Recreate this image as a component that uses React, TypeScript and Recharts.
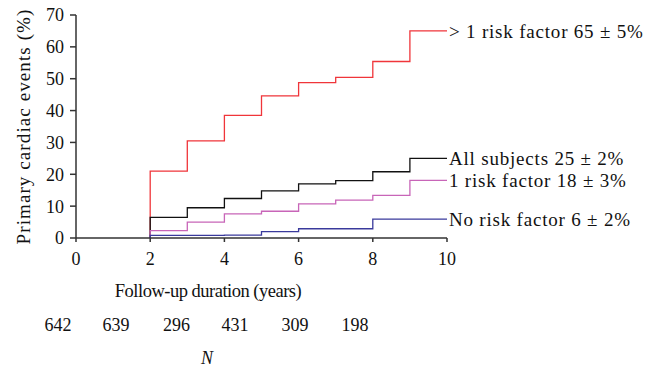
import React from "react";
import { LineChart, Line, XAxis, YAxis } from "recharts";

const xTicks = [0, 2, 4, 6, 8, 10];
const yTicks = [0, 10, 20, 30, 40, 50, 60, 70];
const times = [2, 2, 3, 4, 5, 6, 7, 8, 9, 10];
const moreThanOne = [0, 21, 30.5, 38.5, 44.6, 48.8, 50.4, 55.4, 65, 65];
const allSubjects = [0, 6.5, 9.5, 12.4, 14.8, 17, 18, 20.8, 25, 25];
const oneRisk = [0, 2.3, 5, 7.6, 8.4, 10.7, 11.9, 13.4, 18.1, 18.1];
const noRisk = [0, 0.8, 0.8, 0.9, 2, 2.9, 2.9, 5.9, 5.9, 5.9];
const nLabels = ["642", "639", "296", "431", "309", "198"];
const nCenters = [58, 116, 176.5, 235, 295, 355];

const series = [
  { name: "> 1 risk factor 65 ± 5%", values: moreThanOne, color: "#f0353a" },
  { name: "All subjects 25 ± 2%", values: allSubjects, color: "#111111" },
  { name: "1 risk factor 18 ± 3%", values: oneRisk, color: "#c865b8" },
  { name: "No risk factor 6 ± 2%", values: noRisk, color: "#3a3a9c" },
];

const FONT = "'Liberation Serif', 'Times New Roman', serif";

const makeData = (vals: number[]) => times.map((t, i) => ({ t, v: vals[i] }));

const endLabel = (text: string, n: number) => (props: any) => {
  const { x, y, index } = props;
  if (index !== n - 1) return null;
  return (
    <text
      x={x + 2}
      y={y}
      dy="0.35em"
      fontSize={19}
      letterSpacing={0.8}
      fontFamily={FONT}
      fill="#111"
    >
      {text}
    </text>
  );
};

export default function App() {
  return (
    <div style={{ position: "relative", width: 658, height: 370, fontFamily: FONT, color: "#111" }}>
      <style>{"body{margin:0}"}</style>
      <LineChart width={658} height={370} margin={{ top: 15, right: 211, bottom: 102, left: 0 }}>
        <XAxis
          dataKey="t"
          type="number"
          domain={[0, 10]}
          ticks={xTicks}
          allowDuplicatedCategory={false}
          height={30}
          tickSize={4}
          tickMargin={10}
          stroke="#333"
          strokeWidth={1.5}
          tick={{ fontSize: 18, fontFamily: FONT, fill: "#111" }}
        />
        <YAxis
          type="number"
          domain={[0, 70]}
          ticks={yTicks}
          width={76}
          tickSize={6}
          tickMargin={6}
          stroke="#333"
          strokeWidth={1.5}
          tick={{ fontSize: 18, fontFamily: FONT, fill: "#111" }}
          label={{
            value: "Primary cardiac events (%)",
            angle: -90,
            position: "insideLeft",
            offset: 23,
            style: { textAnchor: "middle", fontSize: 19, letterSpacing: 1.1, fontFamily: FONT, fill: "#111" },
          }}
        />
        {series.map((s) => (
          <Line
            key={s.name}
            data={makeData(s.values)}
            dataKey="v"
            type="stepAfter"
            stroke={s.color}
            strokeWidth={1.3}
            dot={false}
            isAnimationActive={false}
            label={endLabel(s.name, times.length)}
          />
        ))}
      </LineChart>
      <div
        style={{
          position: "absolute",
          left: 0,
          width: 416,
          top: 281,
          textAlign: "center",
          fontSize: 18.5,
          letterSpacing: -0.5,
        }}
      >
        Follow-up duration (years)
      </div>
      {nLabels.map((n, i) => (
        <div
          key={n}
          style={{ position: "absolute", left: nCenters[i] - 30, width: 60, top: 315, textAlign: "center", fontSize: 18 }}
        >
          {n}
        </div>
      ))}
      <div style={{ position: "absolute", left: 177, width: 60, top: 348, textAlign: "center", fontSize: 18, fontStyle: "italic" }}>
        N
      </div>
    </div>
  );
}
